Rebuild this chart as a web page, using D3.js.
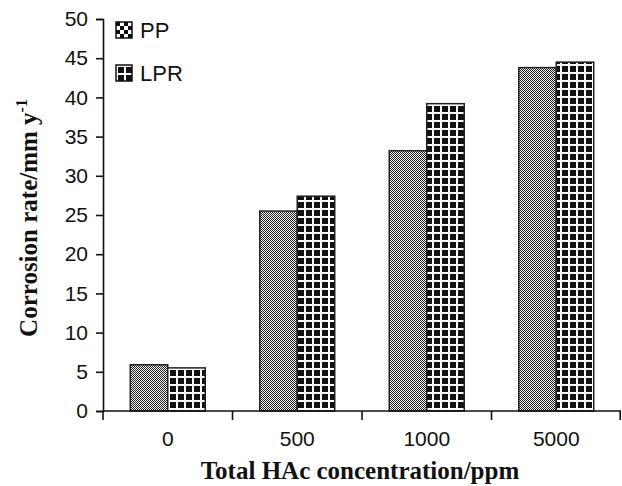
<!DOCTYPE html>
<html>
<head>
<meta charset="utf-8">
<script src="https://cdn.jsdelivr.net/npm/d3@7"></script>
<style>
  body { margin: 0; background: #fff; }
  svg { display: block; }
</style>
</head>
<body>
<div id="app"></div>
<script>
const categories = ["0", "500", "1000", "5000"];
const series = ["PP", "LPR"];
const ppValues = [5.9, 25.5, 33.2, 43.8];
const lprValues = [5.5, 27.4, 39.2, 44.5];
const yTicks = [0, 5, 10, 15, 20, 25, 30, 35, 40, 45, 50];

const width = 622, height = 486;
const svg = d3.select("#app").append("svg")
  .attr("width", width).attr("height", height);

const defs = svg.append("defs");

// fine checker for PP bars
const pp = defs.append("pattern").attr("id", "pp")
  .attr("width", 2).attr("height", 2).attr("patternUnits", "userSpaceOnUse");
pp.append("rect").attr("width", 2).attr("height", 2).attr("fill", "#f4f4f4");
pp.append("rect").attr("width", 1).attr("height", 1).attr("fill", "#222");
pp.append("rect").attr("x", 1).attr("y", 1).attr("width", 1).attr("height", 1).attr("fill", "#222");

// black with white grid for LPR bars
const lpr = defs.append("pattern").attr("id", "lpr")
  .attr("width", 8).attr("height", 8).attr("patternUnits", "userSpaceOnUse");
lpr.append("rect").attr("width", 8).attr("height", 8).attr("fill", "#fff");
lpr.append("rect").attr("x", 2).attr("y", 2).attr("width", 6).attr("height", 6).attr("fill", "#111");

// coarser checker for the legend swatch
const ppL = defs.append("pattern").attr("id", "ppL")
  .attr("width", 8).attr("height", 8).attr("patternUnits", "userSpaceOnUse");
ppL.append("rect").attr("width", 8).attr("height", 8).attr("fill", "#fff");
ppL.append("rect").attr("width", 4).attr("height", 4).attr("fill", "#111");
ppL.append("rect").attr("x", 4).attr("y", 4).attr("width", 4).attr("height", 4).attr("fill", "#111");

const margin = { left: 103, right: 1, top: 19, bottom: 75 };

const x0 = d3.scaleBand().domain(categories)
  .range([margin.left, width - margin.right]).paddingInner(0).paddingOuter(0);
const x1 = d3.scaleBand().domain(series)
  .range([0, x0.bandwidth()]).paddingInner(0).paddingOuter(0.727);
const y = d3.scaleLinear().domain([0, 50]).range([height - margin.bottom, margin.top]);

const fills = { PP: "url(#pp)", LPR: "url(#lpr)" };
const bars = [];
categories.forEach((c, i) => {
  bars.push({ cat: c, s: "PP", v: ppValues[i] });
  bars.push({ cat: c, s: "LPR", v: lprValues[i] });
});

// bars (no group transform so the patterns stay pixel aligned)
svg.append("g").selectAll("rect").data(bars).join("rect")
  .attr("x", d => x0(d.cat) + x1(d.s))
  .attr("width", x1.bandwidth())
  .attr("y", d => y(d.v))
  .attr("height", d => y(0) - y(d.v))
  .attr("fill", d => fills[d.s])
  .attr("stroke", "#222")
  .attr("stroke-width", 1.5);

const sans = "Liberation Sans, Arial, sans-serif";
const serif = "Liberation Serif, Times New Roman, serif";

// y axis
const yAxis = svg.append("g")
  .attr("transform", `translate(${margin.left},0)`)
  .call(d3.axisLeft(y).tickValues(yTicks).tickSize(7).tickPadding(8));
yAxis.select(".domain").attr("stroke", "#111").attr("stroke-width", 1.6);
yAxis.selectAll(".tick line").attr("stroke", "#111").attr("stroke-width", 1.6);
yAxis.selectAll("text").attr("font-family", sans)
  .attr("font-size", 21).attr("fill", "#111");

// x axis with ticks between categories
const xAxis = svg.append("g")
  .attr("transform", `translate(0,${y(0)})`);
xAxis.append("line")
  .attr("x1", x0.range()[0]).attr("x2", x0.range()[1])
  .attr("stroke", "#111").attr("stroke-width", 1.6);
const boundaries = categories.map(c => x0(c)).concat([x0.range()[1] - 0.8]);
xAxis.selectAll(".bt").data(boundaries).join("line")
  .attr("x1", d => d).attr("x2", d => d)
  .attr("y1", 0).attr("y2", 9)
  .attr("stroke", "#111").attr("stroke-width", 1.6);
xAxis.selectAll(".lbl").data(categories).join("text")
  .attr("x", d => x0(d) + x0.bandwidth() / 2)
  .attr("y", 35)
  .attr("text-anchor", "middle")
  .attr("font-family", sans)
  .attr("font-size", 21).attr("fill", "#111")
  .text(d => d);

// axis titles
svg.append("text")
  .attr("x", 360).attr("y", 479)
  .attr("text-anchor", "middle")
  .attr("font-family", serif)
  .attr("font-weight", "bold").attr("font-size", 25).attr("fill", "#111")
  .text("Total HAc concentration/ppm");

const yt = svg.append("text")
  .attr("transform", "translate(37,218) rotate(-90)")
  .attr("text-anchor", "middle")
  .attr("font-family", serif)
  .attr("font-weight", "bold").attr("font-size", 25).attr("fill", "#111");
yt.append("tspan").text("Corrosion rate/mm y");
yt.append("tspan").attr("dy", -10).attr("font-size", 16).text("-1");

// legend
const legendFills = { PP: "url(#ppL)", LPR: "url(#lpr)" };
const legend = svg.append("g").selectAll("g").data(series).join("g")
  .attr("transform", (d, i) => `translate(116,${30 + i * 43})`);
legend.append("rect")
  .attr("x", 0).attr("y", -8).attr("width", 16).attr("height", 16)
  .attr("fill", d => legendFills[d])
  .attr("stroke", "#111").attr("stroke-width", 1.5);
legend.append("text")
  .attr("x", 24).attr("y", 8)
  .attr("font-family", sans)
  .attr("font-size", 22).attr("fill", "#111")
  .text(d => d);
</script>
</body>
</html>
